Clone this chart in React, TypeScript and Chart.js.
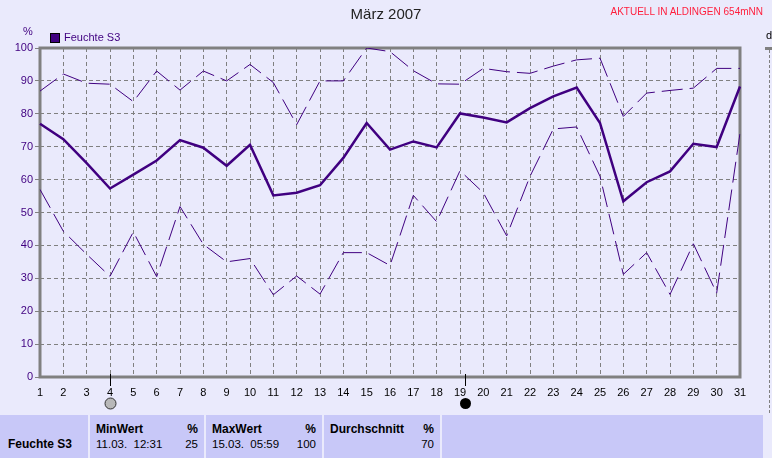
import React, { useEffect, useRef } from 'react';
import { Chart, registerables } from 'chart.js';

Chart.register(...registerables);

const DAYS = ['1', '2', '3', '4', '5', '6', '7', '8', '9', '10', '11', '12', '13', '14', '15', '16', '17', '18', '19', '20', '21', '22', '23', '24', '25', '26', '27', '28', '29', '30', '31'];

const MAX_VALUES = [86.9, 92.1, 89.3, 89, 83.7, 93, 87.2, 93, 90, 95, 89.5, 76.7, 90, 90, 100, 98.9, 93.1, 89.1, 89, 93.8, 92.8, 92.3, 94.5, 96.4, 96.9, 79.2, 86.3, 87.1, 87.8, 93.8, 93.8];
const AVG_VALUES = [77, 72.3, 65, 57.3, 61.5, 65.8, 72, 69.7, 64.2, 70.6, 55.2, 56, 58.3, 66.6, 77.2, 69.1, 71.6, 69.8, 80.1, 78.9, 77.4, 81.7, 85.3, 88, 77.2, 53.4, 59.2, 62.5, 70.9, 69.9, 88.3];
const MIN_VALUES = [57, 44.3, 37.3, 30.6, 44.1, 30.5, 51.8, 40.3, 35, 36, 25, 30.7, 25.2, 37.8, 37.8, 33.9, 55.2, 47.2, 62.7, 56, 42.9, 61, 75.4, 76, 61, 31.2, 37.8, 25.1, 40.5, 25.5, 74.1];

const Y_TICKS = [0, 10, 20, 30, 40, 50, 60, 70, 80, 90, 100];

// moon phases (day of month, fractional)
const MOON_DAYS = [4.0, 19.2];
const MOON_TYPES = ['full', 'new'];

const SERIES_NAME = 'Feuchte S3';
const TITLE = 'März 2007';
const STATION = 'AKTUELL IN ALDINGEN 654mNN';

const STAT_HEADERS = ['MinWert', 'MaxWert', 'Durchschnitt'];
const STAT_TIMES = ['11.03.  12:31', '15.03.  05:59', ''];
const STAT_VALUES = ['25', '100', '70'];

const LINE = '#400080';
const BG = '#EAEAFC';
const CELL = '#C8C8F8';
const FONT = '"Liberation Sans", Arial, sans-serif';

export default function App() {
  const ref = useRef<HTMLCanvasElement>(null);

  useEffect(() => {
    const canvas = ref.current;
    if (!canvas) return;

    const framePlugin = {
      id: 'frame',
      beforeDatasetsDraw(chart: any) {
        const { ctx, chartArea: a } = chart;
        ctx.save();
        ctx.strokeStyle = '#808080';
        ctx.lineWidth = 3;
        ctx.strokeRect(a.left, a.top, a.right - a.left, a.bottom - a.top);
        ctx.restore();
      },
    };

    const moonPlugin = {
      id: 'moon',
      afterDraw(chart: any) {
        const { ctx, chartArea: a } = chart;
        const xs = chart.scales.x;
        ctx.save();
        MOON_DAYS.forEach((d, i) => {
          const px = Math.round(xs.getPixelForValue(d - 1)) + 0.5;
          ctx.strokeStyle = '#000';
          ctx.lineWidth = 1;
          ctx.beginPath();
          ctx.moveTo(px, a.bottom - 3);
          ctx.lineTo(px, a.bottom + 9);
          ctx.stroke();
          ctx.beginPath();
          ctx.arc(px, a.bottom + 26.5, 5.5, 0, Math.PI * 2);
          if (MOON_TYPES[i] === 'full') {
            ctx.fillStyle = '#B8B8B8';
            ctx.fill();
            ctx.strokeStyle = '#303030';
            ctx.stroke();
          } else {
            ctx.fillStyle = '#000';
            ctx.fill();
          }
        });
        ctx.restore();
      },
    };

    const lineDs = (data: number[], width: number, dash: number[]) => ({
      data,
      borderColor: LINE,
      backgroundColor: LINE,
      borderWidth: width,
      borderDash: dash,
      pointRadius: 0,
      fill: false,
      tension: 0,
    });

    const chart = new Chart(canvas, {
      type: 'line',
      data: {
        labels: DAYS,
        datasets: [
          { label: 'Max', ...lineDs(MAX_VALUES, 1, [21, 7]) },
          { label: SERIES_NAME, ...lineDs(AVG_VALUES, 2.5, []) },
          { label: 'Min', ...lineDs(MIN_VALUES, 1, [21, 7]) },
        ],
      },
      options: {
        responsive: false,
        animation: false,
        layout: { padding: { top: 48, right: 32, left: 0, bottom: 0 } },
        plugins: {
          legend: { display: false },
          tooltip: { enabled: false },
          title: { display: false },
        },
        scales: {
          x: {
            type: 'category',
            offset: false,
            afterFit(scale: any) {
              scale.height = 36;
            },
            grid: {
              color: '#808080',
              lineWidth: 1,
              drawTicks: false,
            },
            border: { display: false, dash: [4, 3] },
            ticks: {
              color: '#000',
              font: { family: FONT, size: 11 },
              padding: 9,
              autoSkip: false,
              maxRotation: 0,
            },
          },
          y: {
            min: 0,
            max: 100,
            afterFit(scale: any) {
              scale.width = 40;
            },
            afterBuildTicks(scale: any) {
              scale.ticks = Y_TICKS.map((v) => ({ value: v }));
            },
            grid: {
              color: '#808080',
              lineWidth: 1,
              drawTicks: true,
              tickLength: 5,
              tickColor: '#808080',
            },
            border: { display: false, dash: [4, 3] },
            ticks: {
              color: LINE,
              font: { family: FONT, size: 11 },
              padding: 2,
            },
          },
        },
      },
      plugins: [framePlugin, moonPlugin],
    });

    return () => chart.destroy();
  }, []);

  const cells = [
    { left: 90, width: 114 },
    { left: 206, width: 116 },
    { left: 324, width: 116 },
  ];

  return (
    <div
      style={{
        position: 'absolute',
        left: 0,
        top: 0,
        width: 772,
        height: 458,
        background: BG,
        overflow: 'hidden',
        fontFamily: FONT,
      }}
    >
      <canvas ref={ref} width={772} height={413} style={{ position: 'absolute', left: 0, top: 0, width: 772, height: 413 }} />

      <div style={{ position: 'absolute', left: 0, width: 772, top: 5, textAlign: 'center', fontSize: 15, color: '#222', lineHeight: '18px' }}>
        {TITLE}
      </div>
      <div style={{ position: 'absolute', right: 9, top: 6, fontSize: 10, color: '#FF1E3C', lineHeight: '12px', whiteSpace: 'nowrap' }}>
        {STATION}
      </div>

      <div style={{ position: 'absolute', left: 23, top: 25, fontSize: 11, color: LINE, lineHeight: '13px' }}>%</div>

      <div style={{ position: 'absolute', left: 50, top: 33, width: 8, height: 8, background: LINE, border: '1px solid #000' }} />
      <div style={{ position: 'absolute', left: 64, top: 31, fontSize: 11, color: LINE, lineHeight: '13px', whiteSpace: 'nowrap' }}>
        {SERIES_NAME}
      </div>

      {/* neighbouring chart edge */}
      <div style={{ position: 'absolute', left: 766, top: 29, fontSize: 11, color: '#000', lineHeight: '13px' }}>d</div>
      <div style={{ position: 'absolute', left: 765, top: 47, width: 7, height: 3, background: '#808080' }} />
      <div style={{ position: 'absolute', left: 769, top: 50, width: 0, height: 408, borderLeft: '1px dashed #808080' }} />

      {/* statistics table */}
      <div style={{ position: 'absolute', left: 0, top: 413, width: 772, height: 45, background: BG }} />
      <div style={{ position: 'absolute', left: 0, top: 415, width: 88, height: 43, background: CELL }} />
      {cells.map((c, i) => (
        <div key={i} style={{ position: 'absolute', left: c.left, top: 415, width: c.width, height: 43, background: CELL }} />
      ))}
      <div style={{ position: 'absolute', left: 442, top: 415, width: 321, height: 43, background: CELL }} />

      <div style={{ position: 'absolute', left: 8, top: 437, fontSize: 12, fontWeight: 'bold', color: '#000', lineHeight: '14px', whiteSpace: 'nowrap' }}>
        {SERIES_NAME}
      </div>

      {cells.map((c, i) => (
        <React.Fragment key={'t' + i}>
          <div style={{ position: 'absolute', left: c.left + 6, top: 422, fontSize: 12, fontWeight: 'bold', color: '#000', lineHeight: '14px', whiteSpace: 'nowrap' }}>
            {STAT_HEADERS[i]}
          </div>
          <div style={{ position: 'absolute', left: c.left, width: c.width - 6, top: 422, fontSize: 12, fontWeight: 'bold', color: '#000', lineHeight: '14px', textAlign: 'right' }}>
            %
          </div>
          <div style={{ position: 'absolute', left: c.left + 6, top: 437, fontSize: 11.5, color: '#000', lineHeight: '14px', whiteSpace: 'pre' }}>
            {STAT_TIMES[i]}
          </div>
          <div style={{ position: 'absolute', left: c.left, width: c.width - 6, top: 437, fontSize: 11.5, color: '#000', lineHeight: '14px', textAlign: 'right' }}>
            {STAT_VALUES[i]}
          </div>
        </React.Fragment>
      ))}
    </div>
  );
}
